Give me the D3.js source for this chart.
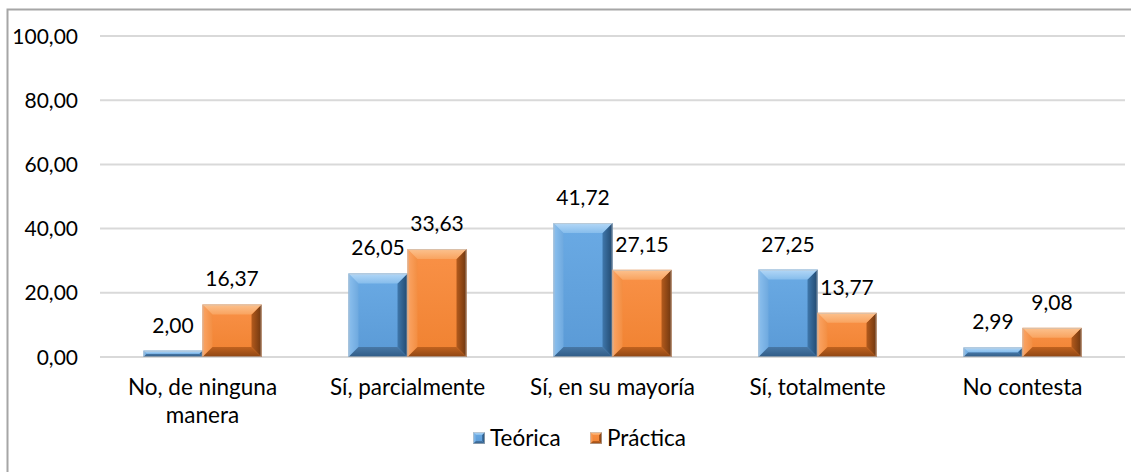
<!DOCTYPE html>
<html><head><meta charset="utf-8">
<script src="https://cdn.jsdelivr.net/npm/d3@7"></script>
<style>body{margin:0;background:#fff}svg{display:block}text{font-family:Lato,"Open Sans",sans-serif;fill:#000}</style>
</head><body>
<svg id="c" width="1131" height="472"></svg>
<script>
const categories = [["No, de ninguna","manera"],["Sí, parcialmente"],["Sí, en su mayoría"],["Sí, totalmente"],["No contesta"]];
const seriesNames = ["Teórica","Práctica"];
const teorica = [2.00, 26.05, 41.72, 27.25, 2.99];
const practica = [16.37, 33.63, 27.15, 13.77, 9.08];
const yTicks = [0,20,40,60,80,100];

const svg = d3.select("#c");
const m={left:100,right:1125,top:36,bottom:357};

svg.append("rect").attr("x",7.5).attr("y",9.5).attr("width",1200).attr("height",600)
  .attr("fill","none").attr("stroke","#a6a6a6").attr("stroke-width",2);

const x = d3.scaleBand().domain(d3.range(categories.length)).range([m.left,m.right]);
const y = d3.scaleLinear().domain([0,100]).range([m.bottom,m.top]);
const fmt = v => d3.format(".2f")(v).replace(".",",");

const defs = svg.append("defs");
const palettes = [
  {id:"b", face:["#6aaae4","#5a9ad6"], top:["#b4d8f7","#86bdec"], left:["#8cc0ee","#6ea9df"], right:["#3f77ab","#22496f"], bottom:["#4878a6","#2f5b86"]},
  {id:"o", face:["#f99147","#f08231"], top:["#fcc28f","#f9a35f"], left:["#fba566","#f38e42"], right:["#b35a1c","#6e360f"], bottom:["#c0621f","#8e4614"]}
];
function grad(id, c, x1,y1,x2,y2){
  const g = defs.append("linearGradient").attr("id",id).attr("x1",x1).attr("y1",y1).attr("x2",x2).attr("y2",y2);
  g.append("stop").attr("offset","0%").attr("stop-color",c[0]);
  g.append("stop").attr("offset","100%").attr("stop-color",c[1]);
}
palettes.forEach(p=>{
  grad(p.id+"face",p.face,0,0,0,1);
  grad(p.id+"top",p.top,0,0,0,1);
  grad(p.id+"left",p.left,0,0,1,0);
  grad(p.id+"right",p.right,0,0,1,0);
  grad(p.id+"bottom",p.bottom,0,0,0,1);
});

// grid
svg.append("g").selectAll("line").data(yTicks).join("line")
  .attr("x1",m.left).attr("x2",m.right).attr("y1",d=>y(d)).attr("y2",d=>y(d))
  .attr("stroke","#d9d9d9").attr("stroke-width",2);
svg.append("g").selectAll("text").data(yTicks).join("text")
  .attr("x",78).attr("y",d=>y(d)).attr("dy","0.36em").attr("text-anchor","end")
  .attr("font-size",21).text(d=>fmt(d));

const bw = 59;
function bevelBar(g, x0, y0, w, h, p, b){
  b = Math.min(b, h/2, w/2);
  const x1=x0+w, y1=y0+h;
  g.append("rect").attr("x",x0).attr("y",y0).attr("width",w).attr("height",h).attr("fill",`url(#${p.id}face)`);
  g.append("polygon").attr("points",[[x0,y0],[x0+b,y0+b],[x0+b,y1-b],[x0,y1]].join(" ")).attr("fill",`url(#${p.id}left)`);
  g.append("polygon").attr("points",[[x1,y0],[x1,y1],[x1-b,y1-b],[x1-b,y0+b]].join(" ")).attr("fill",`url(#${p.id}right)`);
  g.append("polygon").attr("points",[[x0,y1],[x1,y1],[x1-b,y1-b],[x0+b,y1-b]].join(" ")).attr("fill",`url(#${p.id}bottom)`);
  g.append("polygon").attr("points",[[x0,y0],[x1,y0],[x1-b,y0+b],[x0+b,y0+b]].join(" ")).attr("fill",`url(#${p.id}top)`);
  g.append("rect").attr("x",x0+0.5).attr("y",y0+0.5).attr("width",w-1).attr("height",Math.max(h-1,0))
    .attr("fill","none").attr("stroke","#bfbfbf").attr("stroke-opacity",0.6).attr("stroke-width",1);
}
const series=[teorica,practica];
const gBars = svg.append("g");
series.forEach((vals,si)=>{
  vals.forEach((v,i)=>{
    const cx = x(i)+x.bandwidth()/2;
    const x0 = si===0 ? cx-bw : cx;
    const yt = y(v);
    bevelBar(gBars, x0, yt, bw, y(0)-yt, palettes[si], 10);
    svg.append("text").attr("x",x0+bw/2).attr("y",yt-18).attr("text-anchor","middle")
      .attr("font-size",21).text(fmt(v));
  });
});

// category labels
categories.forEach((lines,i)=>{
  const cx = x(i)+x.bandwidth()/2;
  const t = svg.append("text").attr("x",cx).attr("y",395).attr("text-anchor","middle").attr("font-size",22.5);
  lines.forEach((l,j)=>t.append("tspan").attr("x",cx).attr("dy",j?28:0).text(l));
});

// legend
const lg = svg.append("g");
const legX=[473,590];
seriesNames.forEach((n,si)=>{
  bevelBar(lg, legX[si], 432, 12, 12, palettes[si], 3);
  lg.append("text").attr("x",legX[si]+17).attr("y",438).attr("dy","0.36em").attr("font-size",22.5).text(n);
});
</script>
</body></html>
